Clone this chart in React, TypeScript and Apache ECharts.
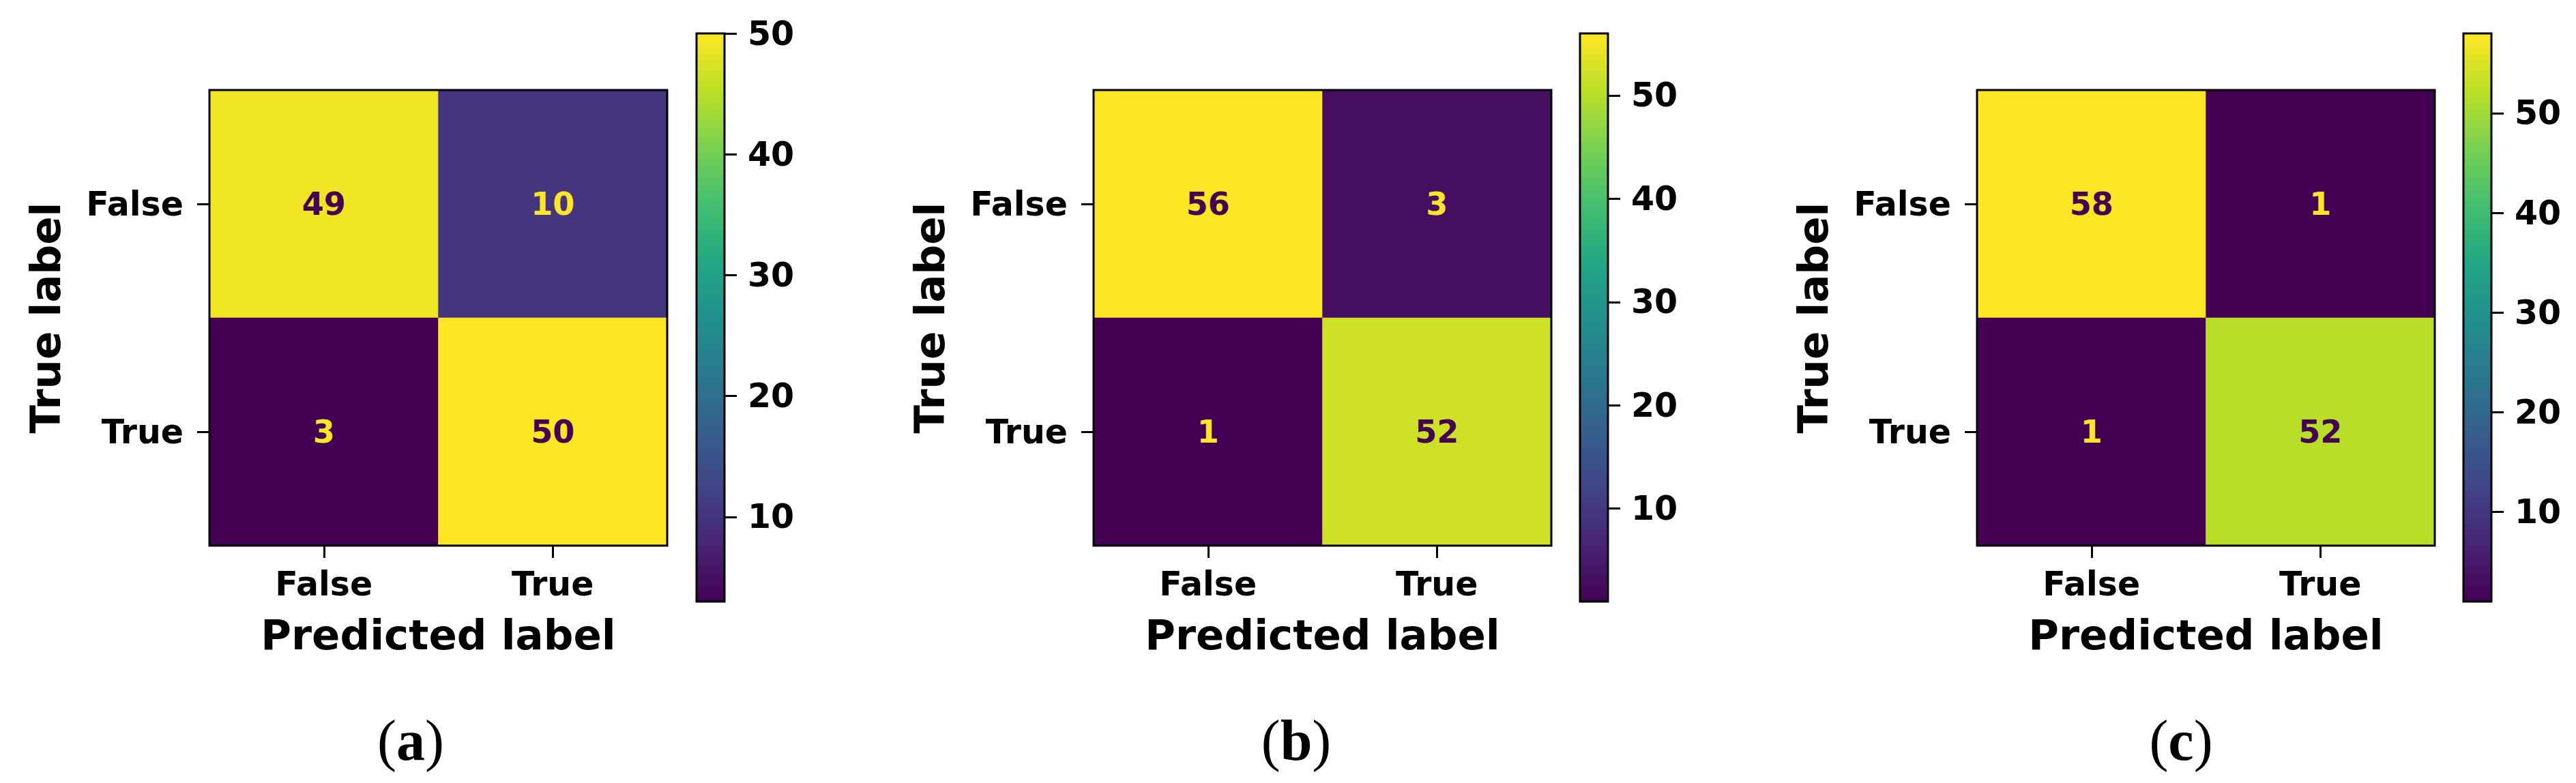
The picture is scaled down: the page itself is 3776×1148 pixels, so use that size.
import React, { useEffect, useRef } from "react";
import * as echarts from "echarts";

// ---- data ----
const CATEGORIES = ["False", "True"];
const MATRIX_A = [
  [49, 10],
  [3, 50],
];
const MATRIX_B = [
  [56, 3],
  [1, 52],
];
const MATRIX_C = [
  [58, 1],
  [1, 52],
];
const COLORBAR_TICKS = [10, 20, 30, 40, 50];
const PANEL_LABELS = ["a", "b", "c"];
const VIRIDIS = [
  "#440154",
  "#482475",
  "#414487",
  "#355f8d",
  "#2a788e",
  "#21918c",
  "#22a884",
  "#44bf70",
  "#7ad151",
  "#bddf26",
  "#fde725",
];

// ---- layout ----
const MATRICES = [MATRIX_A, MATRIX_B, MATRIX_C];
const HEAT_LEFT = [307, 1603, 2898];
const HEAT_TOP = 132;
const HEAT_SIZE_W = 671;
const HEAT_SIZE_H = 668;
const CB_LEFT = [1021, 2316, 3611];
const CB_TOP = 49;
const CB_W = 41;
const CB_H = 833;
const CAPTION_X = [602, 1900, 3197];
const CAPTION_Y = 1085;
const FONT = "DejaVu Sans";

function buildOption() {
  const grid: any[] = [];
  const xAxis: any[] = [];
  const yAxis: any[] = [];
  const series: any[] = [];
  const visualMap: any[] = [];
  const tickStyle = { color: "#000", width: 3 };
  const labelStyle = { fontSize: 49, fontWeight: "bold", color: "#000", fontFamily: FONT };
  const nameStyle = { fontSize: 61, fontWeight: "bold", color: "#000", fontFamily: FONT, verticalAlign: "middle" };

  MATRICES.forEach((m, i) => {
    grid[i] = {
      left: HEAT_LEFT[i],
      top: HEAT_TOP,
      width: HEAT_SIZE_W,
      height: HEAT_SIZE_H,
      show: true,
      z: 5,
      backgroundColor: "transparent",
      borderColor: "#000",
      borderWidth: 3,
    };
    grid[3 + i] = { left: CB_LEFT[i], top: CB_TOP, width: CB_W, height: CB_H };
  });

  MATRICES.forEach((m, i) => {
    const flat = m.flat();
    const vmin = Math.min(...flat);
    const vmax = Math.max(...flat);
    const thresh = (vmin + vmax) / 2;

    xAxis[i] = {
      gridIndex: i,
      type: "category",
      data: CATEGORIES,
      position: "bottom",
      axisLine: { show: false },
      axisTick: { show: true, alignWithLabel: true, length: 18, lineStyle: tickStyle },
      axisLabel: { margin: 32, ...labelStyle },
      splitLine: { show: false },
      name: "Predicted label",
      nameLocation: "middle",
      nameGap: 130,
      nameTextStyle: nameStyle,
    };
    yAxis[i] = {
      gridIndex: i,
      type: "category",
      data: CATEGORIES,
      inverse: true,
      axisLine: { show: false },
      axisTick: { show: true, alignWithLabel: true, length: 18, lineStyle: tickStyle },
      axisLabel: { margin: 38, ...labelStyle },
      splitLine: { show: false },
      name: "True label",
      nameLocation: "middle",
      nameGap: 241,
      nameTextStyle: nameStyle,
    };
    xAxis[3 + i] = { gridIndex: 3 + i, type: "category", data: [""], show: false };
    yAxis[3 + i] = {
      gridIndex: 3 + i,
      type: "value",
      min: vmin,
      max: vmax,
      position: "right",
      axisLine: { show: false },
      splitLine: { show: false },
      axisTick: { show: true, length: 18, lineStyle: tickStyle, customValues: COLORBAR_TICKS },
      axisLabel: { margin: 34, customValues: COLORBAR_TICKS, ...labelStyle },
    };

    const data: any[] = [];
    m.forEach((row, r) =>
      row.forEach((v, c) => {
        data.push({
          value: [c, r, v],
          label: { color: v < thresh ? VIRIDIS[VIRIDIS.length - 1] : VIRIDIS[0] },
        });
      })
    );
    series[i] = {
      type: "heatmap",
      xAxisIndex: i,
      yAxisIndex: i,
      data,
      itemStyle: { borderWidth: 0 },
      label: { show: true, fontSize: 46, fontWeight: "bold", fontFamily: FONT },
      emphasis: { disabled: true },
    };
    visualMap.push({
      type: "continuous",
      show: false,
      seriesIndex: i,
      dimension: 2,
      min: vmin,
      max: vmax,
      inRange: { color: VIRIDIS },
    });
    const stops = VIRIDIS.map((c, k) => ({ offset: k / (VIRIDIS.length - 1), color: c }));
    series[3 + i] = {
      type: "custom",
      xAxisIndex: 3 + i,
      yAxisIndex: 3 + i,
      data: [[0, vmin, vmax]],
      encode: { x: 0, y: [1, 2] },
      renderItem: (params: any, api: any) => {
        const top = api.coord([0, api.value(2)]);
        const bottom = api.coord([0, api.value(1)]);
        const cs = params.coordSys;
        return {
          type: "rect",
          shape: { x: cs.x, y: top[1], width: cs.width, height: bottom[1] - top[1] },
          style: {
            fill: new echarts.graphic.LinearGradient(0, 1, 0, 0, stops),
            stroke: "#000",
            lineWidth: 3,
          },
        };
      },
    };
  });

  const graphic = PANEL_LABELS.map((l, i) => ({
    type: "text",
    x: CAPTION_X[i],
    y: CAPTION_Y,
    style: {
      text: `{p|(}{b|${l}}{p|)}`,
      align: "center",
      verticalAlign: "middle",
      rich: {
        p: { fontFamily: "Liberation Serif", fontSize: 84, fill: "#000" },
        b: { fontFamily: "Liberation Serif", fontSize: 84, fontWeight: "bold", fill: "#000" },
      },
    },
  }));

  return {
    animation: false,
    backgroundColor: "#fff",
    grid,
    xAxis,
    yAxis,
    visualMap,
    series,
    graphic,
  };
}

export default function App() {
  const ref = useRef<HTMLDivElement>(null);
  useEffect(() => {
    document.body.style.margin = "0";
    if (!ref.current) return;
    const chart = echarts.init(ref.current, undefined, { renderer: "svg" });
    chart.setOption(buildOption() as any);
    return () => chart.dispose();
  }, []);
  return <div ref={ref} style={{ width: 3776, height: 1148 }} />;
}
